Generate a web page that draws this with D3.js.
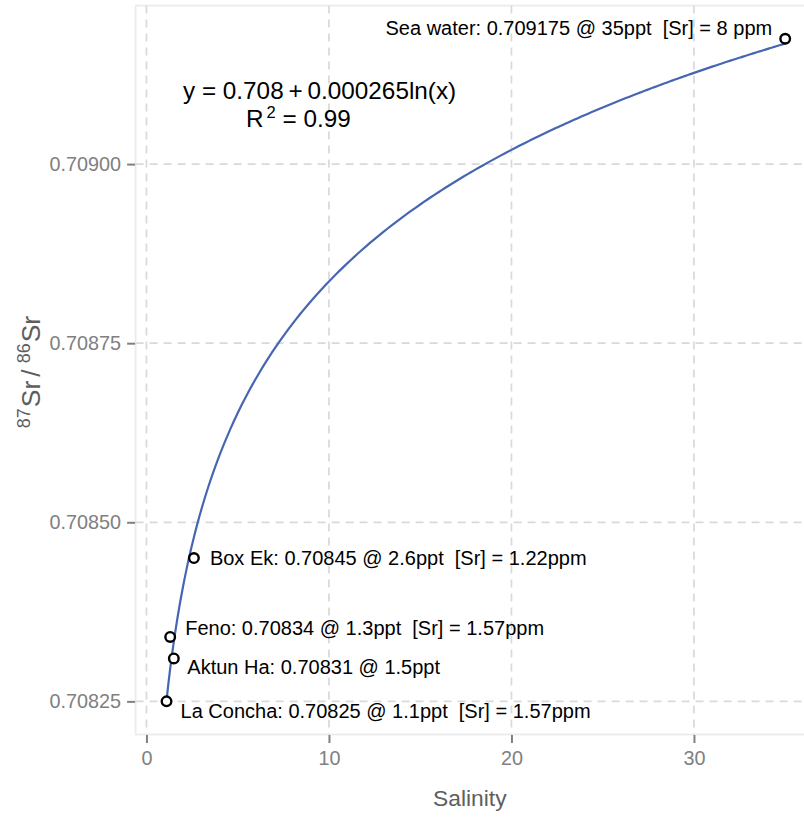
<!DOCTYPE html>
<html>
<head>
<meta charset="utf-8">
<script src="https://cdn.jsdelivr.net/npm/d3@7"></script>
<style>
  html, body { margin: 0; padding: 0; background: #ffffff; }
  svg { display: block; font-family: "Liberation Sans", Arial, Helvetica, sans-serif; }
</style>
</head>
<body>
<svg id="chart" width="804" height="817"></svg>
<script>
// Sampling sites: salinity (ppt) and 87Sr/86Sr ratio
const sites = ["La Concha", "Feno", "Aktun Ha", "Box Ek", "Sea water"];
const salinity = [1.1, 1.3, 1.5, 2.6, 35];
const srRatio = [0.70825, 0.70834, 0.70831, 0.70845, 0.709175];
const srConc = ["1.57ppm", "1.57ppm", null, "1.22ppm", "8 ppm"];

// Logarithmic fit  y = a + b ln(x)
const fitIntercept = 0.708226;
const fitSlope = 0.000265;
const fitR2 = 0.99;

// Axis ticks
const xTicks = [0, 10, 20, 30];
const yTicks = [0.70825, 0.70850, 0.70875, 0.70900];

// Label placement relative to each point (pixels)
const labelLayout = [
  { dx: 14, dy: 17, anchor: "start" },
  { dx: 15, dy: -2, anchor: "start" },
  { dx: 13.5, dy: 15.5, anchor: "start" },
  { dx: 16, dy: 7, anchor: "start" },
  { dx: -13, dy: -4, anchor: "end" }
];

const svg = d3.select("#chart");
const panel = { left: 135.6, right: 804, top: 5.6, bottom: 734.5 };

const x = d3.scaleLinear().domain([-0.595, 36.03]).range([panel.left, panel.right]);
const yExt = d3.extent(srRatio);
const yPad = (yExt[1] - yExt[0]) * 0.05;
const y = d3.scaleLinear().domain([yExt[0] - yPad, yExt[1] + yPad]).range([panel.bottom, panel.top]);

const tickColor = "#808080";
const titleColor = "#5e5e5e";

// Panel border
svg.append("rect")
  .attr("x", panel.left).attr("y", panel.top)
  .attr("width", panel.right + 2 - panel.left).attr("height", panel.bottom - panel.top)
  .attr("fill", "none").attr("stroke", "#ebebeb").attr("stroke-width", 1.8);

// Grid lines
const grid = svg.append("g").attr("stroke", "#d9d9d9").attr("stroke-width", 1.7)
  .attr("stroke-dasharray", "8,6");
grid.selectAll("line.v").data(xTicks).join("line").attr("class", "v")
  .attr("x1", d => x(d)).attr("x2", d => x(d))
  .attr("y1", panel.top).attr("y2", panel.bottom);
grid.selectAll("line.h").data(yTicks).join("line").attr("class", "h")
  .attr("x1", panel.left).attr("x2", panel.right)
  .attr("y1", d => y(d)).attr("y2", d => y(d));

// Axes
const xAxis = d3.axisBottom(x).tickValues(xTicks).tickFormat(d3.format("d"))
  .tickSize(8).tickPadding(8);
const gx = svg.append("g").attr("transform", `translate(0,${panel.bottom + 0.5})`).call(xAxis);
gx.select(".domain").remove();
gx.selectAll(".tick line").attr("stroke", tickColor).attr("stroke-width", 2);
gx.selectAll(".tick text").attr("fill", tickColor).attr("font-size", 19.8)
  .attr("font-family", "Liberation Sans, Arial, sans-serif");

const yAxis = d3.axisLeft(y).tickValues(yTicks).tickFormat(d3.format(".5f"))
  .tickSize(8).tickPadding(6);
const gy = svg.append("g").attr("transform", `translate(${panel.left - 0.5},0)`).call(yAxis);
gy.select(".domain").remove();
gy.selectAll(".tick line").attr("stroke", tickColor).attr("stroke-width", 2);
gy.selectAll(".tick text").attr("fill", tickColor).attr("font-size", 19.8)
  .attr("font-family", "Liberation Sans, Arial, sans-serif");

// Axis titles
svg.append("text")
  .attr("x", (panel.left + panel.right) / 2).attr("y", 806)
  .attr("text-anchor", "middle").attr("fill", titleColor).attr("font-size", 22.8)
  .text("Salinity");

const yTitle = svg.append("text")
  .attr("transform", `translate(40,${(panel.top + panel.bottom) / 2 + 2}) rotate(-90)`)
  .attr("text-anchor", "middle").attr("fill", titleColor).attr("font-size", 26.5);
yTitle.append("tspan").attr("font-size", 18).attr("dy", -10).text("87");
yTitle.append("tspan").attr("dy", 10).attr("dx", 1).text("Sr");
yTitle.append("tspan").attr("dx", 4).text("/");
yTitle.append("tspan").attr("font-size", 18).attr("dy", -10).attr("dx", 6).text("86");
yTitle.append("tspan").attr("dy", 10).attr("dx", 1).text("Sr");

// Fitted curve
const curveX = d3.scaleLog().domain([d3.min(salinity), d3.max(salinity)]).ticks(200)
  .filter(v => v >= d3.min(salinity) && v <= d3.max(salinity));
if (curveX[0] > d3.min(salinity)) curveX.unshift(d3.min(salinity));
if (curveX[curveX.length - 1] < d3.max(salinity)) curveX.push(d3.max(salinity));
const fitLine = d3.line()
  .x(d => x(d))
  .y(d => y(fitIntercept + fitSlope * Math.log(d)))
  .curve(d3.curveMonotoneX);
svg.append("path").datum(curveX)
  .attr("d", fitLine).attr("fill", "none")
  .attr("stroke", "#4766b2").attr("stroke-width", 2.2);

// Points
const pts = sites.map((s, i) => ({ site: s, sal: salinity[i], r: srRatio[i], sr: srConc[i], lay: labelLayout[i] }));
svg.append("g").selectAll("circle").data(pts).join("circle")
  .attr("cx", d => x(d.sal)).attr("cy", d => y(d.r)).attr("r", 4.8)
  .attr("fill", "#ffffff").attr("stroke", "#000000").attr("stroke-width", 2.4);

// Point labels
svg.append("g").selectAll("text").data(pts).join("text")
  .attr("x", d => x(d.sal) + d.lay.dx).attr("y", d => y(d.r) + d.lay.dy)
  .attr("text-anchor", d => d.lay.anchor)
  .attr("font-size", 20).attr("fill", "#000000")
  .style("white-space", "pre")
  .text(d => `${d.site}: ${d.r} @ ${d.sal}ppt` + (d.sr ? `  [Sr] = ${d.sr}` : ""));

// Fit equation and R²
svg.append("text").attr("x", 183).attr("y", 99).attr("font-size", 24.3).attr("fill", "#000")
  .style("white-space", "pre")
  .text(`y = ${fitIntercept.toFixed(3)}\u2009+\u2009${fitSlope.toFixed(6)}ln(x)`);
const r2 = svg.append("text").attr("x", 246).attr("y", 127).attr("font-size", 24.3).attr("fill", "#000")
  .style("white-space", "pre");
r2.append("tspan").text("R");
r2.append("tspan").attr("font-size", 16.5).attr("dy", -9).attr("dx", 3).text("2");
r2.append("tspan").attr("dy", 9).text(` = ${fitR2}`);
</script>
</body>
</html>
